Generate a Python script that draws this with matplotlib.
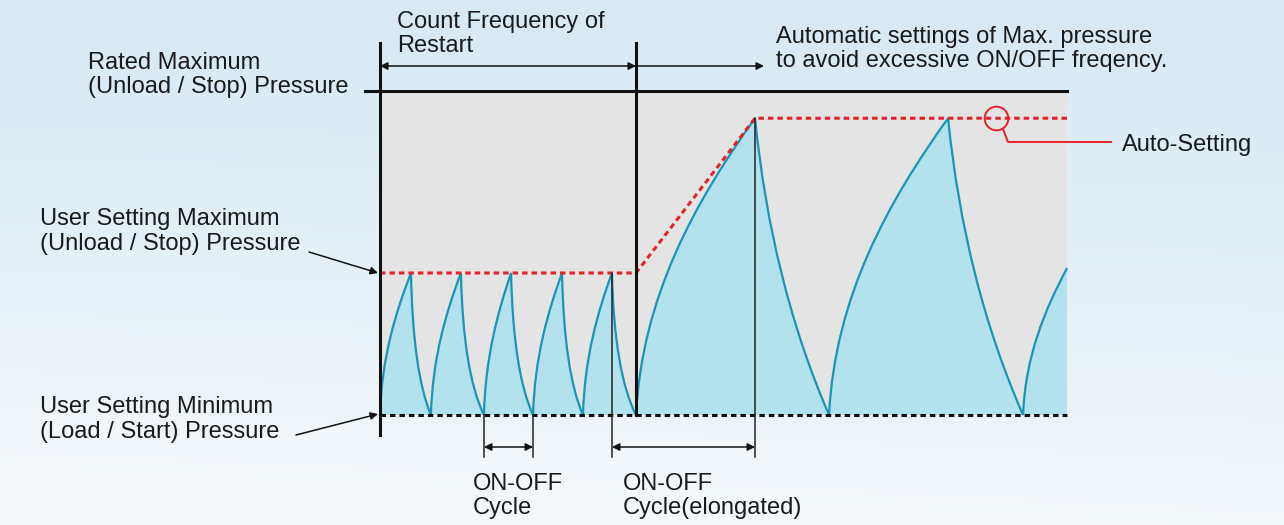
import numpy as np
import matplotlib
matplotlib.use('Agg')
import matplotlib.pyplot as plt
from matplotlib.path import Path
from matplotlib.patches import PathPatch, Rectangle

plt.rcParams['font.family'] = ['Liberation Sans', 'DejaVu Sans']

# pressure levels (relative units, user min = 0, user max = 1)
p_min = 0.0
p_user_max = 1.0
p_auto_max = 2.09
p_rated_max = 2.28

# time (arbitrary units); switch to auto-setting at t = 10
t_switch = 10.0
t_end = 26.84

# phase 1: short ON-OFF cycles up to user max
peaks1 = [1.21, 3.16, 5.12, 7.11, 9.06]
troughs1 = [1.99, 4.06, 5.98, 7.93, 10.0]
# phase 2: elongated cycles up to auto max
peaks2 = [14.65, 22.19]
troughs2 = [17.54, 25.12]
p_last = 1.035

# red max-pressure setting line
red_t = [0, t_switch, 14.65, t_end]
red_p = [p_user_max, p_user_max, p_auto_max, p_auto_max]

# mapping of the figure (px) to data units
W, H = 1284, 525
X0, T_PX = 380, 25.6
Y0, P_PX = 415, 142


def at(x, y):
    return ((x - X0) / T_PX, (Y0 - y) / P_PX)


fig = plt.figure(figsize=(W / 100, H / 100), dpi=100)
ax = fig.add_axes([0, 0, 1, 1])
xl = (-X0 / T_PX, (W - X0) / T_PX)
yl = (-(H - Y0) / P_PX, Y0 / P_PX)
ax.set_xlim(*xl)
ax.set_ylim(*yl)
ax.axis('off')

# background gradient (row 0 = top)
yy = np.linspace(0, 1, 200)[:, None]
xx = np.linspace(0, 1, 300)[None, :]
top = np.array([216, 233, 243]) / 255
bot = np.array([244, 248, 251]) / 255
mix = np.clip(yy ** 1.2 * 0.95 + (1 - xx) * 0.15 * yy, 0, 1)
bg = top[None, None, :] * (1 - mix[..., None]) + bot[None, None, :] * mix[..., None]
ax.imshow(bg, extent=[xl[0], xl[1], yl[0], yl[1]], aspect='auto', zorder=0, origin='upper')
ax.set_xlim(*xl)
ax.set_ylim(*yl)

# gray operating band
ax.add_patch(Rectangle((0, p_min), t_end, p_rated_max, facecolor='#e4e4e4', edgecolor='none', zorder=1))

# saw-tooth pressure curve
pts = [(0.0, p_min)]
for pk, tr in zip(peaks1, troughs1):
    pts += [(pk, p_user_max), (tr, p_min)]
for pk, tr in zip(peaks2, troughs2):
    pts += [(pk, p_auto_max), (tr, p_min)]
pts.append((t_end, p_last))

# cubic bezier handles, as fractions of each segment (time, pressure change)
rise_ctrl = [(0.05, 0.4), (0.5, 0.72)]
fall_short = [(0.067, 0.467), (0.4, 0.8)]
fall_long = [(0.147, 0.367), (0.48, 0.7)]

verts = [pts[0]]
codes = [Path.MOVETO]
for (ta, pa), (tb, pb) in zip(pts[:-1], pts[1:]):
    if pb > pa:
        ctrl = rise_ctrl
    elif ta < t_switch:
        ctrl = fall_short
    else:
        ctrl = fall_long
    for kt, kp in ctrl:
        verts.append((ta + kt * (tb - ta), pa + kp * (pb - pa)))
    verts.append((tb, pb))
    codes += [Path.CURVE4] * 3

fill_path = Path(verts + [(t_end, p_min), verts[0]], codes + [Path.LINETO, Path.CLOSEPOLY])
ax.add_patch(PathPatch(fill_path, facecolor='#b3e2ee', edgecolor='none', zorder=2))
ax.add_patch(PathPatch(Path(verts, codes), facecolor='none', edgecolor='#1995b5', lw=1.6, zorder=3))

# levels
ax.plot([0, t_end], [p_min, p_min], color='#111111', lw=2.2, ls=(0, (1.8, 1.3)), zorder=4)
ax.plot(red_t, red_p, color='#e3232c', lw=2.2, ls=(0, (1.8, 1.3)), zorder=4)
ax.plot([at(365, 0)[0], t_end], [p_rated_max, p_rated_max], color='#111111', lw=2.2, zorder=4)

# main vertical lines
ax.plot([0, 0], [at(0, 435)[1], at(0, 43)[1]], color='#111111', lw=2.2, zorder=5)
ax.plot([t_switch, t_switch], [p_min, at(0, 43)[1]], color='#111111', lw=2.2, zorder=5)

# cycle markers
y_tick = at(0, 457)[1]
for t, p in [(troughs1[1], p_min), (troughs1[2], p_min), (peaks1[-1], p_user_max), (peaks2[0], p_auto_max)]:
    ax.plot([t, t], [y_tick, p], color='#222222', lw=1.1, zorder=5)

arr = dict(color='#111111', lw=1.1, shrinkA=0, shrinkB=0, mutation_scale=11)
y_br = at(0, 447)[1]
ax.annotate('', xy=(troughs1[2], y_br), xytext=(troughs1[1], y_br), arrowprops=dict(arrowstyle='<|-|>', **arr))
ax.annotate('', xy=(peaks2[0], y_br), xytext=(peaks1[-1], y_br), arrowprops=dict(arrowstyle='<|-|>', **arr))

y_top = at(0, 66)[1]
ax.annotate('', xy=(t_switch, y_top), xytext=(0, y_top), arrowprops=dict(arrowstyle='<|-|>', **arr))
ax.annotate('', xy=(at(764, 0)[0], y_top), xytext=(t_switch, y_top), arrowprops=dict(arrowstyle='-|>', **arr))

# pointer arrows to the left axis
ax.annotate('', xy=at(378, 273), xytext=at(309, 252), arrowprops=dict(arrowstyle='-|>', **arr))
ax.annotate('', xy=at(378, 414), xytext=at(296, 435), arrowprops=dict(arrowstyle='-|>', **arr))

# auto-setting marker
ax.plot(*at(996, 118), marker='o', ms=17, mfc='none', mec='#e3232c', mew=1.4, zorder=6)
lead = [at(1003, 129), at(1008, 142), at(1111, 142)]
ax.plot([p[0] for p in lead], [p[1] for p in lead], color='#e3232c', lw=1.4, zorder=6)

# labels
txt = dict(fontsize=17, color='#1a1a1a', va='baseline', ha='left', zorder=7)
labels = [
    (397, 28, 'Count Frequency of'),
    (397, 52, 'Restart'),
    (776, 43, 'Automatic settings of Max. pressure'),
    (776, 67, 'to avoid excessive ON/OFF freqency.'),
    (88, 69, 'Rated Maximum'),
    (88, 93, '(Unload / Stop) Pressure'),
    (40, 225, 'User Setting Maximum'),
    (40, 250, '(Unload / Stop) Pressure'),
    (40, 413, 'User Setting Minimum'),
    (40, 438, '(Load / Start) Pressure'),
    (1122, 151, 'Auto-Setting'),
    (473, 490, 'ON-OFF'),
    (473, 514, 'Cycle'),
    (623, 490, 'ON-OFF'),
    (623, 514, 'Cycle(elongated)'),
]
for x, y, s in labels:
    ax.text(*at(x, y), s, **txt)

fig.savefig('out.png', dpi=100)
